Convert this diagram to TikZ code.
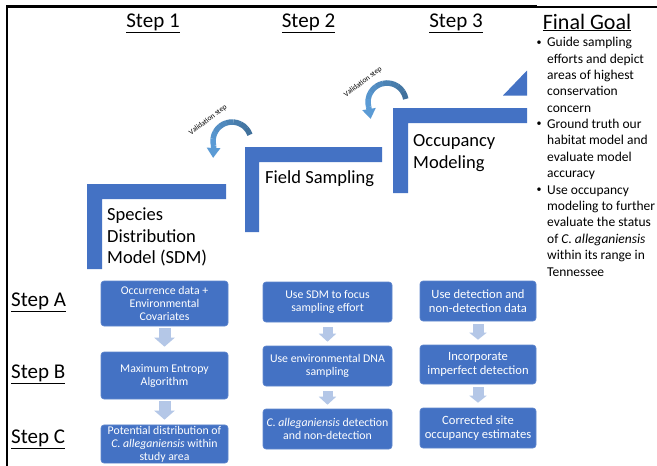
\documentclass[tikz,border=0pt]{standalone}
\usepackage{fontspec}
\setmainfont{Carlito}
\usetikzlibrary{arrows.meta,calc}
\definecolor{boxblue}{HTML}{4472C4}
\definecolor{arrowlight}{HTML}{B4C7E7}
\definecolor{curvedark}{HTML}{41719C}
\definecolor{curvelight}{HTML}{5B9BD5}
\newcommand{\goalbullet}{\makebox[10.5pt][l]{\raisebox{0.12em}{\fontsize{10}{10}\selectfont\textbullet}}}
\begin{document}
\begin{tikzpicture}[x=1pt,y=-1pt,
  lshape/.style={fill=boxblue},
  stepbox/.style={rounded corners=3pt, fill=boxblue, draw=boxblue!85!white, line width=0.6pt,
    text=white, align=center, inner sep=1pt},
  colone/.style={stepbox, minimum width=127pt, font=\fontsize{11.8}{13}\selectfont},
  coltwo/.style={stepbox, minimum width=129pt, minimum height=40pt, font=\fontsize{11.8}{13.3}\selectfont},
  colthree/.style={stepbox, minimum width=116pt, font=\fontsize{12.6}{14.3}\selectfont},
  flowone/.style={draw=arrowlight, line width=12pt, -{Triangle[width=20pt,length=9pt]}, shorten <=2pt, shorten >=5pt},
  flowtwo/.style={draw=arrowlight, line width=10pt, -{Triangle[width=17pt,length=8pt]}, shorten <=5pt, shorten >=4pt},
  flowthree/.style={draw=arrowlight, line width=11pt, -{Triangle[width=17pt,length=7pt]}, shorten <=3pt, shorten >=5pt},
  header/.style={anchor=base, font=\fontsize{21}{25}\selectfont, inner sep=0},
  rowlabel/.style={anchor=base west, font=\fontsize{21}{25}\selectfont, inner sep=0},
  llabel/.style={anchor=base west, font=\fontsize{18.5}{21.3}\selectfont, inner sep=0},
  validlabel/.style={font=\fontsize{7.5}{9}\selectfont, rotate=37, inner sep=0},
  curveband/.style={line width=5.5pt}
]
\useasboundingbox (0,0) rectangle (657,466);
\fill[white] (0,0) rectangle (657,466);

% frame
\draw[line width=2.5pt] (7,466) -- (7,6.5) -- (537,6.5);
\draw[line width=2pt] (537,6.5) -- (657,6.5);

% headers
\node[header] (h1) at (153,27.5) {\underline{Step 1}};
\node[header] (h2) at (308.5,27.5) {\underline{Step 2}};
\node[header] (h3) at (456,27) {\underline{Step 3}};
\node[header, font=\fontsize{22}{26}\selectfont] (hg) at (587,29) {\underline{Final Goal}};

% final goal bullets
\node[anchor=base west, inner sep=0, font=\fontsize{13.5}{16.38}\selectfont] (goals) at (536.5,46.7) {%
\begin{tabular}[t]{@{}l@{}l@{}}
\goalbullet & Guide sampling\\
 & efforts and depict\\
 & areas of highest\\
 & conservation\\
 & concern\\
\goalbullet & Ground truth our\\
 & habitat model and\\
 & evaluate model\\
 & accuracy\\
\goalbullet & Use occupancy\\
 & modeling to further\\
 & evaluate the status\\
 & of \textit{C. alleganiensis}\\
 & within its range in\\
 & Tennessee
\end{tabular}};

% L-shaped steps
\fill[lshape] (87,184) -- (226,184) -- (226,199) -- (102,199) -- (102,269) -- (87,269) -- cycle;
\fill[lshape] (245,147) -- (382,147) -- (382,162) -- (259,162) -- (259,232) -- (245,232) -- cycle;
\fill[lshape] (393,108) -- (527,108) -- (527,123) -- (408,123) -- (408,193) -- (393,193) -- cycle;
\fill[lshape] (503,95.5) -- (527,95.5) -- (527,70.5) -- cycle;

\node[llabel] (sdm) at (107,220.7) {\begin{tabular}[t]{@{}l@{}}Species\\Distribution\\Model (SDM)\end{tabular}};
\node[llabel] (field) at (265,183.3) {Field Sampling};
\node[llabel] (occ) at (413,146.7) {\begin{tabular}[t]{@{}l@{}}Occupancy\\Modeling\end{tabular}};

% validation arrows
\coordinate (c1) at (232,141);
\coordinate (c2) at (387,102);
\foreach \i in {0,...,7} {
  \pgfmathsetmacro\sa{-20-\i*(175/8)+0.8}
  \pgfmathsetmacro\ea{-20-(\i+1)*(175/8)}
  \pgfmathsetmacro\mix{100-\i*100/7}
  \draw[curveband, color=curvedark!\mix!curvelight] (c1) ++(\sa:19) arc[start angle=\sa, end angle=\ea, radius=19];
  \pgfmathsetmacro\sb{-10-\i*(185/8)+0.8}
  \pgfmathsetmacro\eb{-10-(\i+1)*(185/8)}
  \draw[curveband, color=curvedark!\mix!curvelight] (c2) ++(\sb:19) arc[start angle=\sb, end angle=\eb, radius=19];
}
\draw[curveband, curvelight, -{Triangle[width=13pt,length=10pt]}] (c1) ++(-195:19) -- ++(-0.5,12);
\draw[curveband, curvelight, -{Triangle[width=13pt,length=10pt]}] (c2) ++(-195:19) -- ++(2,12);
\node[validlabel] (v1) at (208,120) {Validation step};
\node[validlabel] (v2) at (363,82) {Validation step};

% row labels
\node[rowlabel] (sa) at (11,306.7) {\underline{Step A}};
\node[rowlabel] (sb) at (11,378) {\underline{Step B}};
\node[rowlabel] (sc) at (11,443) {\underline{Step C}};

% column 1
\node[colone, minimum height=45pt] (a1) at (164.5,303.5) {Occurrence data +\\Environmental\\Covariates};
\node[colone, minimum height=47pt] (b1) at (164.5,375.5) {Maximum Entropy\\Algorithm};
\node[colone, minimum height=38pt] (c1b) at (164.5,444) {Potential distribution of\\\textit{C. alleganiensis} within\\study area};
% column 2
\node[coltwo] (a2) at (327.5,302) {Use SDM to focus\\sampling effort};
\node[coltwo] (b2) at (327.5,366) {Use environmental DNA\\sampling};
\node[coltwo] (c2b) at (327.5,429) {\textit{C. alleganiensis} detection\\and non-detection};
% column 3
\node[colthree, minimum height=40pt] (a3) at (478,301) {Use detection and\\non-detection data};
\node[colthree, minimum height=39pt] (b3) at (478,364.5) {Incorporate\\imperfect detection};
\node[colthree, minimum height=40pt] (c3) at (478,428) {Corrected site\\occupancy estimates};

% flow arrows
\draw[flowone] (a1) -- (b1);
\draw[flowone] (b1) -- (c1b);
\draw[flowtwo] (a2) -- (b2);
\draw[flowtwo] (b2) -- (c2b);
\draw[flowthree] (a3) -- (b3);
\draw[flowthree] (b3) -- (c3);
\end{tikzpicture}
\end{document}
